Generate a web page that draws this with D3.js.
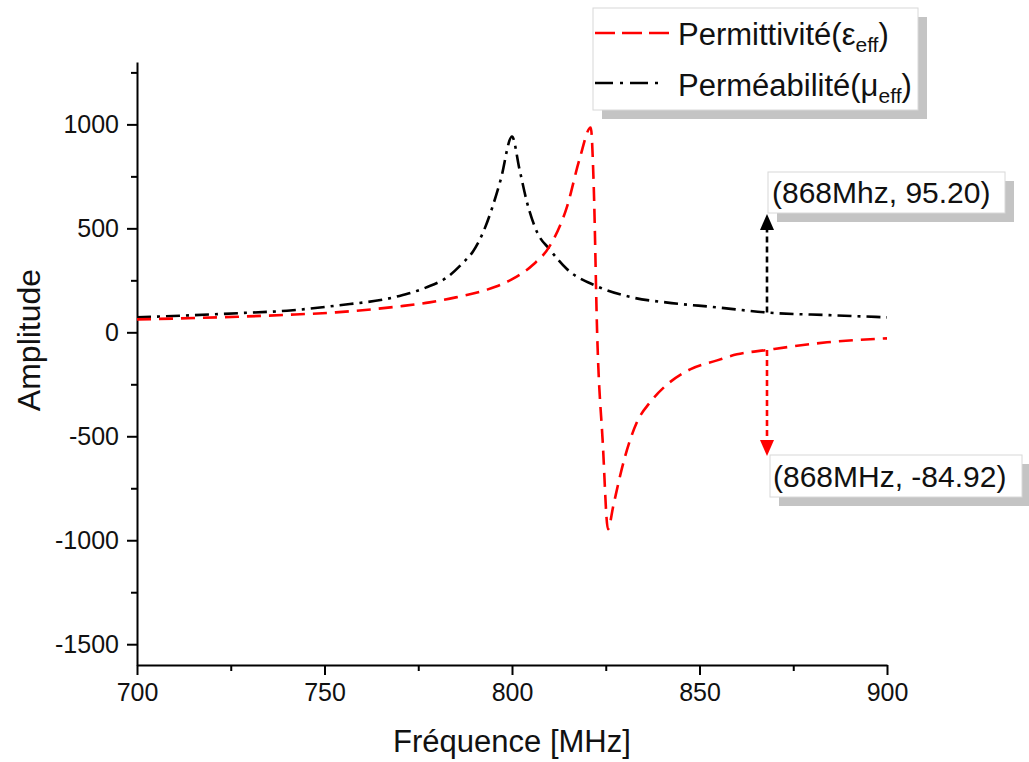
<!DOCTYPE html>
<html>
<head>
<meta charset="utf-8">
<script src="https://cdn.jsdelivr.net/npm/d3@7"></script>
<style>
  body { margin: 0; background: #fff; }
  text { font-family: "Liberation Sans", Arial, sans-serif; fill: #111; }
</style>
</head>
<body>
<div id="canvas"></div>
<script>
// data
var xTicks = [700, 750, 800, 850, 900];
var yTicks = [-1500, -1000, -500, 0, 500, 1000];

// permeability (mu_eff), black dash-dot
var muFreq = [700, 727, 740, 753, 770, 777, 782.7, 787, 789.6, 792.3, 797, 800, 802, 804, 806.7, 810, 814.7, 822.7, 832, 841, 854.7, 868, 885.6, 900];
var muVal  = [72, 92, 104, 128, 175, 215, 265, 336, 389, 481, 735, 942, 784, 625, 481, 400, 303, 221, 168, 144, 120, 95.2, 82, 72];

// permittivity (eps_eff), red dashed
var epsFreq = [700, 727, 740, 753, 770, 778, 785, 793.3, 800.3, 805.6, 810, 814.7, 818, 821, 821.8, 822.7, 824.2, 825.6, 827, 828.8, 830.1, 833.3, 836.8, 840.8, 847.5, 854.7, 860, 868, 884, 900];
var epsVal  = [62, 75, 84, 96, 125, 144, 168, 205, 258, 325, 413, 606, 832, 985, 700, 0, -529, -947, -836, -692, -601, -433, -337, -260, -178, -135, -106, -84.92, -48, -29];

var markF = 868;
var markMu = 95.20;
var markEps = -84.92;

var width = 1029;
var height = 762;

var svg = d3.select('#canvas')
  .append("svg")
  .attr("width", width)
  .attr("height", height);

var x = d3.scaleLinear().domain([700, 900]).range([137, 887]);
var y = d3.scaleLinear().domain([-1600, 1300]).range([665, 62]);

// x axis, major + minor ticks
svg.append("g").attr("transform", "translate(0,665)")
  .call(d3.axisBottom(x).tickValues(xTicks).tickSize(10).tickSizeOuter(0).tickPadding(8).tickFormat(d => String(d)));
svg.append("g").attr("transform", "translate(0,665)")
  .call(d3.axisBottom(x).tickValues(d3.range(725, 900, 50)).tickSize(6).tickFormat("").tickSizeOuter(0))
  .select(".domain").remove();

svg.append("g").attr("transform", "translate(137,0)")
  .call(d3.axisLeft(y).tickValues(yTicks).tickSize(10).tickSizeOuter(0).tickPadding(8).tickFormat(d => String(d)));
svg.append("g").attr("transform", "translate(137,0)")
  .call(d3.axisLeft(y).tickValues([-1250, -750, -250, 250, 750, 1250]).tickSize(6).tickFormat("").tickSizeOuter(0))
  .select(".domain").remove();

svg.selectAll(".domain").attr("stroke", "#000").attr("stroke-width", 2);
svg.selectAll(".tick line").attr("stroke", "#000").attr("stroke-width", 2);
svg.selectAll(".tick text").style("font-size", "25px").attr("fill", "#111");

// axis titles
svg.append("text")
  .attr("x", 512).attr("y", 752)
  .attr("text-anchor", "middle")
  .style("font-size", "31px")
  .text("Fréquence [MHz]");

svg.append("text")
  .attr("transform", "translate(40,340) rotate(-90)")
  .attr("text-anchor", "middle")
  .style("font-size", "32px")
  .text("Amplitude");

// curves
var line = d3.line()
  .x(d => x(d[0]))
  .y(d => y(d[1]))
  .curve(d3.curveMonotoneX);

svg.append("path")
  .datum(muFreq.map((f, i) => [f, muVal[i]]))
  .attr("d", line)
  .attr("fill", "none")
  .attr("stroke", "#000")
  .attr("stroke-width", 2.6)
  .attr("stroke-dasharray", "14,6,3,6");

svg.append("path")
  .datum(epsFreq.map((f, i) => [f, epsVal[i]]))
  .attr("d", line)
  .attr("fill", "none")
  .attr("stroke", "#ff0000")
  .attr("stroke-width", 2.6)
  .attr("stroke-dasharray", "14,8");

// boxes with grey drop shadow
var shadowBox = (bx, by, bw, bh) => {
  svg.append("rect").attr("x", bx + 9).attr("y", by + 9).attr("width", bw).attr("height", bh)
    .attr("fill", "#c4c4c4");
  svg.append("rect").attr("x", bx).attr("y", by).attr("width", bw).attr("height", bh)
    .attr("fill", "#fff").attr("stroke", "#d8d8d8").attr("stroke-width", 1);
}

// annotation arrows
var arrow = (fx, fv, tipY, color) => {
  var px = x(fx), py = y(fv);
  var dir = tipY < py ? 1 : -1; // head points up when dir = 1
  svg.append("line")
    .attr("x1", px).attr("y1", py).attr("x2", px).attr("y2", tipY + dir * 14)
    .attr("stroke", color).attr("stroke-width", 2.6).attr("stroke-dasharray", "6,4");
  svg.append("path")
    .attr("d", "M" + px + "," + tipY + "L" + (px - 7) + "," + (tipY + dir * 16) + "L" + (px + 7) + "," + (tipY + dir * 16) + "Z")
    .attr("fill", color);
}

arrow(markF, markMu, 214, "#000");
arrow(markF, markEps, 456, "#ff0000");

shadowBox(768, 172, 237, 41);
svg.append("text").attr("x", 772).attr("y", 203).style("font-size", "30px")
  .text("(868Mhz, " + markMu.toFixed(2) + ")");

shadowBox(770, 455, 252, 42);
svg.append("text").attr("x", 773).attr("y", 487).style("font-size", "30px")
  .text("(868MHz, " + markEps.toFixed(2) + ")");

// legend
shadowBox(593, 8, 325, 102);
svg.append("line").attr("x1", 595).attr("x2", 670).attr("y1", 33).attr("y2", 33)
  .attr("stroke", "#ff0000").attr("stroke-width", 2.6).attr("stroke-dasharray", "20,7");
svg.append("line").attr("x1", 595).attr("x2", 664).attr("y1", 83).attr("y2", 83)
  .attr("stroke", "#000").attr("stroke-width", 2.6).attr("stroke-dasharray", "18,7,3,7");

var leg1 = svg.append("text").attr("x", 678).attr("y", 45).style("font-size", "31px");
leg1.append("tspan").text("Permittivité(ε");
leg1.append("tspan").attr("dy", 7).style("font-size", "21px").text("eff");
leg1.append("tspan").attr("dy", -7).text(")");

var leg2 = svg.append("text").attr("x", 678).attr("y", 96).style("font-size", "31px");
leg2.append("tspan").text("Perméabilité(μ");
leg2.append("tspan").attr("dy", 7).style("font-size", "21px").text("eff");
leg2.append("tspan").attr("dy", -7).text(")");
</script>
</body>
</html>
